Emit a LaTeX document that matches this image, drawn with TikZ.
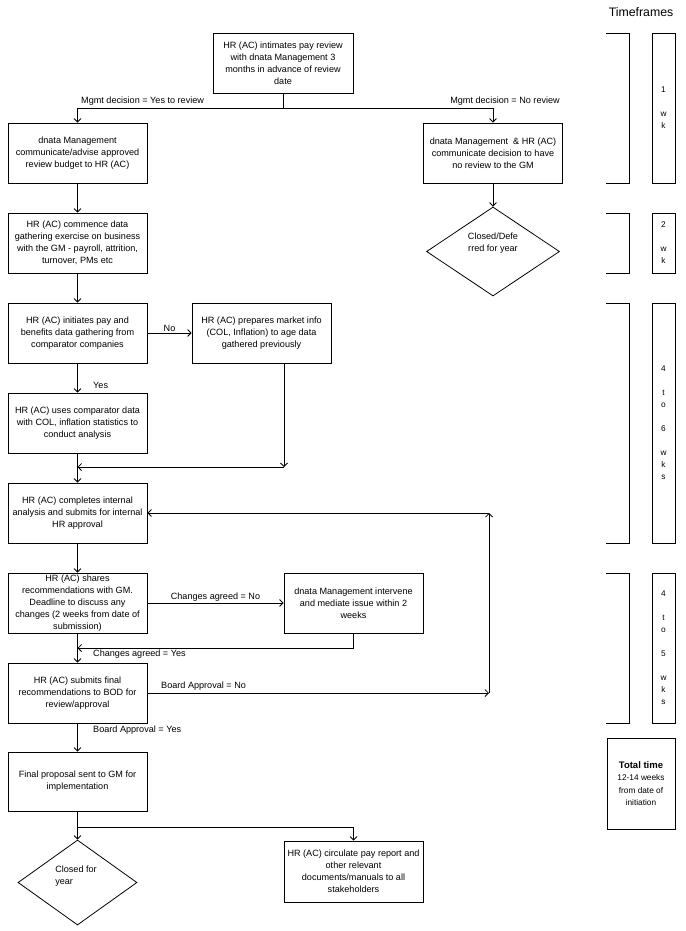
\documentclass[tikz,border=0pt]{standalone}
\usepackage{fontspec}
\setmainfont{Liberation Sans}
\usetikzlibrary{arrows.meta,shapes.geometric}
\begin{document}
\begin{tikzpicture}[x=1pt,y=-1pt,
  font=\fontsize{9.1}{12}\selectfont,
  box/.style={draw,line width=0.8pt,minimum width=139pt,minimum height=60pt,inner sep=0pt,align=center},
  dia/.style={draw,line width=0.8pt,diamond,inner sep=0pt},
  arr/.style={line width=0.8pt,-{Straight Barb[length=3.5pt,width=7pt]}},
  ln/.style={line width=0.8pt},
  lbl/.style={inner sep=1pt},
  tf/.style={draw,line width=0.8pt,minimum width=23pt,inner sep=0pt,align=center,font=\fontsize{8.3}{12}\selectfont},
  br/.style={line width=0.8pt}]
\useasboundingbox (0,0) rectangle (685,931);

% main boxes
\node[box,minimum width=140pt] (A) at (283,63) {HR (AC) intimates pay review\\with dnata Management 3\\months in advance of review\\date};
\node[box] (B) at (77.5,153) {dnata Management\\communicate/advise approved\\review budget to HR (AC)};
\node[box] (C) at (493,153) {dnata Management~\ \& HR (AC)\\communicate decision to have\\no review to the GM};
\node[dia,minimum width=133pt,minimum height=89pt] (D1) at (493,251.5) {};
\node[align=center] (D1t) at (493,243) {Closed/Defe\\rred for year};
\node[box] (E) at (77.5,243) {HR (AC) commence data\\gathering exercise on business\\with the GM - payroll, attrition,\\turnover, PMs etc};
\node[box] (F) at (77.5,333) {HR (AC) initiates pay and\\benefits data gathering from\\comparator companies};
\node[box] (G) at (261.5,333) {HR (AC) prepares market info\\(COL, Inflation) to age data\\gathered previously};
\node[box] (H) at (77.5,423) {HR (AC) uses comparator data\\with COL, inflation statistics to\\conduct analysis};
\node[box] (I) at (77.5,513) {HR (AC) completes internal\\analysis and submits for internal\\HR approval};
\node[box] (J) at (77.5,603) {HR (AC) shares\\recommendations with GM.\\Deadline to discuss any\\changes (2 weeks from date of\\submission)};
\node[box] (K) at (353.5,603) {dnata Management intervene\\and mediate issue within 2\\weeks};
\node[box] (L) at (77.5,693) {HR (AC) submits final\\recommendations to BOD for\\review/approval};
\node[box,minimum height=59pt] (M) at (77.5,781.5) {Final proposal sent to GM for\\implementation};
\node[box,minimum height=61pt] (N) at (353.5,871.5) {HR (AC) circulate pay report and\\other relevant\\documents/manuals to all\\stakeholders};
\node[dia,minimum width=119pt,minimum height=85pt] (D2) at (77.5,882.5) {};
\node[align=left] (D2t) at (76,876) {Closed for\\year};

% connectors
\coordinate (j1) at (283,108);
\draw[ln] (A.south) -- (j1);
\draw[arr] (j1) -| (B.north);
\draw[arr] (j1) -| (C.north);
\node[lbl,anchor=south west] (l1) at (80,107) {Mgmt decision = Yes to review};
\node[lbl,anchor=south east] (l2) at (561,107) {Mgmt decision = No review};
\draw[arr] (C.south) -- (D1.north);
\draw[arr] (B.south) -- (E.north);
\draw[arr] (E.south) -- (F.north);
\draw[arr] (F.east) -- node[lbl,above] (lno) {No} (G.west);
\draw[arr] (F.south) -- (H.north);
\node[lbl,anchor=west] (lyes) at (92,385) {Yes};
\coordinate (gc) at (284,467);
\coordinate (m1) at (77.5,467);
\draw[arr] (G.south -| gc) -- (gc);
\draw[arr] (gc) -- (m1);
\draw[arr] (H.south) -- (I.north);
\draw[arr] (I.south) -- (J.north);
\draw[arr] (J.east) -- node[lbl,above] (lcn) {Changes agreed = No} (K.west);
\coordinate (m2) at (77.5,648);
\draw[arr] (K.south) |- (m2);
\draw[arr] (J.south) -- (L.north);
\node[lbl,anchor=north west] (lcy) at (92,649) {Changes agreed = Yes};
\coordinate (c1) at (489,693);
\coordinate (c2) at (489,513);
\draw[arr] (L.east) -- (c1);
\node[lbl,anchor=south west] (lbn) at (160,692) {Board Approval = No};
\draw[arr] (c1) -- (c2);
\draw[arr] (c2) -- (I.east);
\draw[arr] (L.south) -- (M.north);
\node[lbl,anchor=west] (lby) at (92,730) {Board Approval = Yes};
\coordinate (jm) at (77.5,827);
\draw[arr] (M.south) -- (D2.north);
\draw[arr] (jm) -| (N.north);

% timeframes
\node[font=\fontsize{12.3}{14}\selectfont] (TF) at (641,12) {Timeframes};
\draw[br] (606,33) -- (629,33) -- (629,183) -- (606,183);
\draw[br] (606,213) -- (629,213) -- (629,273) -- (606,273);
\draw[br] (606,303) -- (629,303) -- (629,543) -- (606,543);
\draw[br] (606,573) -- (629,573) -- (629,723) -- (606,723);
\node[tf,minimum height=150pt] (T1) at (663.5,108) {1\\[12pt]w\\k};
\node[tf,minimum height=60pt] (T2) at (663.5,243) {2\\[12pt]w\\k};
\node[tf,minimum height=240pt] (T3) at (663.5,423) {4\\[12pt]t\\o\\[12pt]6\\[12pt]w\\k\\s};
\node[tf,minimum height=150pt] (T4) at (663.5,648) {4\\[12pt]t\\o\\[12pt]5\\[12pt]w\\k\\s};
\node[draw,line width=0.8pt,minimum width=68pt,minimum height=91pt,inner sep=0pt,align=center,font=\fontsize{8.3}{12.5}\selectfont] (TT) at (641,783.5) {{\bfseries\fontsize{9.5}{12.5}\selectfont Total time}\\12-14 weeks\\from date of\\initiation};
\end{tikzpicture}
\end{document}
